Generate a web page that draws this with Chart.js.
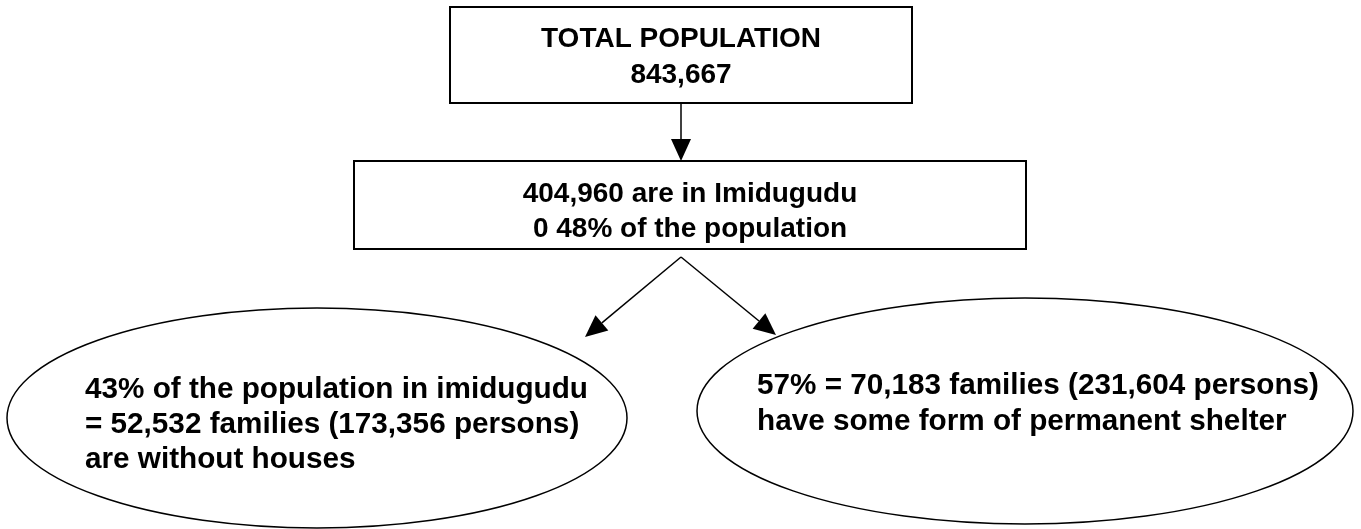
<!DOCTYPE html>
<html>
<head>
<meta charset="utf-8">
<script src="https://cdn.jsdelivr.net/npm/chart.js@4"></script>
<style>
  html, body { margin: 0; padding: 0; background: #fff; }
  #wrap { width: 1361px; height: 529px; }
</style>
</head>
<body>
<div id="wrap"><canvas id="flow"></canvas></div>
<script>
"use strict";

// figures
let totalPopulation = [843667];
let inImidugudu = [404960];
let imidShare = ["0 48%"];
let withoutShare = [43], withoutFamilies = [52532], withoutPersons = [173356];
let shelterShare = [57], shelterFamilies = [70183], shelterPersons = [231604];

// node ids, kinds and centres (in page units of the hidden scales)
let nodeIds = ["total", "imid", "without", "shelter"];
let nodeKind = ["box", "box", "ellipse", "ellipse"];
let nodeX = [681, 690, 317, 1025];
let nodeY = [55, 205, 418, 411];

const fmt = n => n.toLocaleString("en-US");

let nodeText = [
    ["TOTAL POPULATION", fmt(totalPopulation[0])],
    [fmt(inImidugudu[0]) + " are in Imidugudu", imidShare[0] + " of the population"],
    [withoutShare[0] + "% of the population in imidugudu",
     "= " + fmt(withoutFamilies[0]) + " families (" + fmt(withoutPersons[0]) + " persons)",
     "are without houses"],
    [shelterShare[0] + "% = " + fmt(shelterFamilies[0]) + " families (" + fmt(shelterPersons[0]) + " persons)",
     "have some form of permanent shelter"]
];

// shape sizes and text baselines
const shape = {
    total:   { w: 462, h: 96, lines: [47, 83], align: "center", font: 28 },
    imid:    { w: 672, h: 88, lines: [202, 237], align: "center", font: 28 },
    without: { rx: 310, ry: 110, lines: [398, 433, 468], align: "left", tx: 85, font: 29.7 },
    shelter: { rx: 328, ry: 113, lines: [394, 430], align: "left", tx: 757, font: 29.7 }
};

// arrows: [from x, from y, to x, to y]
const arrows = [
    [681, 103, 681, 161],
    [681, 257, 585, 337],
    [681, 257, 776, 335]
];

function drawArrow(ctx, x1, y1, x2, y2) {
    const ang = Math.atan2(y2 - y1, x2 - x1);
    const len = 22, half = 10;
    const bx = x2 - len * Math.cos(ang), by = y2 - len * Math.sin(ang);
    ctx.beginPath();
    ctx.moveTo(x1, y1);
    ctx.lineTo(bx, by);
    ctx.stroke();
    ctx.beginPath();
    ctx.moveTo(x2, y2);
    ctx.lineTo(bx + half * Math.sin(ang), by - half * Math.cos(ang));
    ctx.lineTo(bx - half * Math.sin(ang), by + half * Math.cos(ang));
    ctx.closePath();
    ctx.fill();
}

const flowPlugin = {
    id: "flow",
    afterDatasetsDraw(chart) {
        const ctx = chart.ctx;
        const sx = chart.scales.x, sy = chart.scales.y;
        const px = v => sx.getPixelForValue(v);
        const py = v => sy.getPixelForValue(v);
        ctx.save();
        ctx.strokeStyle = "#000";
        ctx.fillStyle = "#000";

        nodeIds.forEach((id, i) => {
            const s = shape[id];
            const cx = px(nodeX[i]), cy = py(nodeY[i]);
            ctx.beginPath();
            if (nodeKind[i] === "box") {
                ctx.lineWidth = 2;
                const l = px(nodeX[i] - s.w / 2), r = px(nodeX[i] + s.w / 2);
                const t = py(nodeY[i] - s.h / 2), b = py(nodeY[i] + s.h / 2);
                ctx.rect(l, t, r - l, b - t);
            } else {
                ctx.lineWidth = 1.5;
                const rx = Math.abs(px(nodeX[i] + s.rx) - cx);
                const ry = Math.abs(py(nodeY[i] + s.ry) - cy);
                ctx.ellipse(cx, cy, rx, ry, 0, 0, Math.PI * 2);
            }
            ctx.stroke();

            // labels
            ctx.font = "bold " + s.font + "px 'Liberation Sans', Arial, sans-serif";
            ctx.textBaseline = "alphabetic";
            ctx.textAlign = s.align;
            nodeText[i].forEach((line, k) => {
                const x = s.align === "center" ? cx : px(s.tx);
                ctx.fillText(line, x, py(s.lines[k]));
            });
        });

        ctx.lineWidth = 1.5;
        arrows.forEach(a => drawArrow(ctx, px(a[0]), py(a[1]), px(a[2]), py(a[3])));
        ctx.restore();
    }
};

new Chart(document.getElementById("flow"), {
    type: "scatter",
    data: {
        datasets: [{
            label: "nodes",
            data: nodeIds.map((id, i) => ({ x: nodeX[i], y: nodeY[i] })),
            pointRadius: 0
        }]
    },
    options: {
        responsive: true,
        maintainAspectRatio: false,
        animation: false,
        layout: { padding: 0 },
        plugins: { legend: { display: false }, tooltip: { enabled: false } },
        scales: {
            x: { type: "linear", min: 0, max: 1361, display: false },
            y: { type: "linear", min: 0, max: 529, reverse: true, display: false }
        }
    },
    plugins: [flowPlugin]
});
</script>
</body>
</html>
